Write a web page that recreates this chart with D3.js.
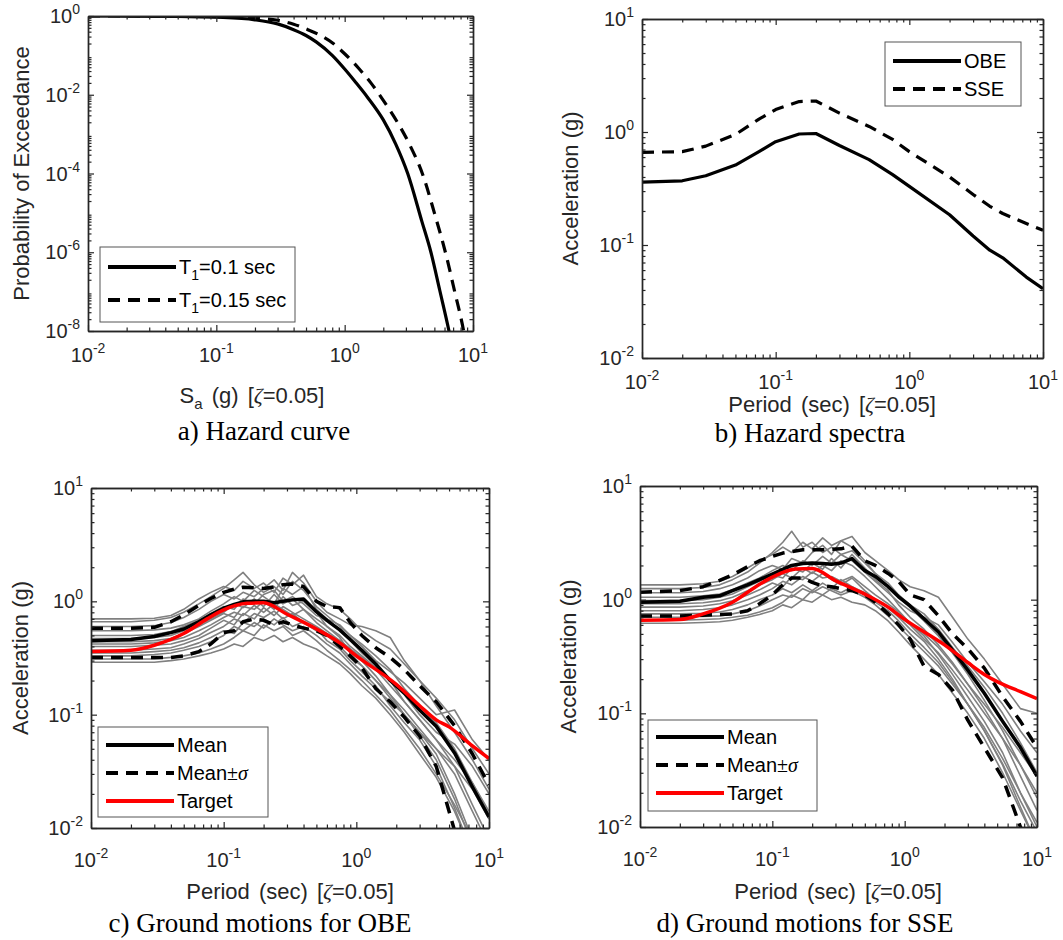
<!DOCTYPE html>
<html>
<head>
<meta charset="utf-8">
<script src="https://cdn.jsdelivr.net/npm/d3@7"></script>
<style>
body { margin: 0; background: #fff; }
svg { font-family: "Liberation Sans", Arial, Helvetica, sans-serif; }
</style>
</head>
<body>
<div id="fig"></div>
<script>
// ---- a) hazard curves ----
let hazT1x = [0.01, 0.02, 0.05, 0.1, 0.2, 0.3, 0.4, 0.5, 0.6, 0.8, 1.0, 1.2, 1.5, 2.0, 2.5, 3.1, 4.0, 4.7, 5.5, 6.5, 7.0];
let hazT1p = [1.0, 0.998, 0.98, 0.93, 0.8, 0.63, 0.45, 0.32, 0.22, 0.1, 0.045, 0.022, 0.0088, 0.0023, 5.6e-4, 1e-4, 6e-6, 1e-6, 1.1e-7, 1e-8, 3e-9];
let hazT2x = [0.01, 0.02, 0.05, 0.1, 0.2, 0.3, 0.4, 0.5, 0.65, 0.8, 1.0, 1.3, 1.6, 2.0, 2.6, 3.2, 4.1, 5.0, 6.2, 7.2, 8.5, 9.0];
let hazT2p = [1.0, 0.999, 0.99, 0.965, 0.88, 0.78, 0.62, 0.47, 0.32, 0.21, 0.11, 0.045, 0.02, 0.0072, 0.0019, 5.5e-4, 8.5e-5, 1e-5, 8e-7, 1e-7, 9e-9, 3e-9];

// ---- b) hazard spectra ----
let specT = [0.01, 0.02, 0.03, 0.05, 0.075, 0.1, 0.15, 0.2, 0.3, 0.5, 0.75, 1, 2, 3, 4, 5, 7.5, 10];
let specOBE = [0.36, 0.37, 0.41, 0.51, 0.67, 0.82, 0.96, 0.97, 0.76, 0.57, 0.42, 0.33, 0.185, 0.12, 0.09, 0.077, 0.052, 0.041];
let specSSE = [0.66, 0.67, 0.75, 0.95, 1.3, 1.58, 1.86, 1.88, 1.47, 1.12, 0.86, 0.67, 0.4, 0.28, 0.22, 0.19, 0.155, 0.135];

// target spectra used in c) and d)
let targetOBE = [0.36, 0.37, 0.41, 0.52, 0.7, 0.84, 0.96, 0.97, 0.77, 0.57, 0.43, 0.33, 0.185, 0.12, 0.09, 0.078, 0.053, 0.041];
let targetSSE = [0.66, 0.67, 0.75, 0.95, 1.3, 1.58, 1.86, 1.88, 1.47, 1.12, 0.86, 0.67, 0.4, 0.28, 0.22, 0.19, 0.155, 0.135];

// ---- c), d) ground motion spectra ----
let gmT = [0.01, 0.02, 0.03, 0.04, 0.05, 0.065, 0.08, 0.1, 0.12, 0.14, 0.17, 0.2, 0.24, 0.28, 0.33,
           0.4, 0.5, 0.6, 0.75, 0.9, 1.1, 1.4, 1.8, 2.3, 3, 4, 5.5, 7.5, 10];

let obeMean  = [0.45,0.46,0.49,0.53,0.57, 0.66,0.76,0.87,0.94,0.99, 1.0,1.0,0.97,1.0,1.03, 1.05,0.81,0.68,0.56,0.46, 0.37,0.28,0.2,0.155,0.11, 0.079,0.046,0.023,0.0125];
let obeUpper = [0.58,0.58,0.59,0.66,0.76, 0.92,1.06,1.2,1.28,1.33, 1.32,1.3,1.34,1.4,1.42, 1.35,1.0,0.9,0.88,0.65, 0.5,0.39,0.32,0.25,0.18, 0.13,0.08,0.045,0.024];
let obeLower = [0.32,0.32,0.32,0.32,0.33, 0.36,0.42,0.53,0.55,0.66, 0.7,0.68,0.62,0.66,0.62, 0.58,0.55,0.5,0.4,0.33, 0.26,0.17,0.13,0.095,0.065, 0.035,0.0095,0.003,0.002];
let obeRecords = [
  [0.70,0.70,0.71,0.75,0.85, 1.05,1.2,1.35,1.25,1.5, 1.3,1.45,1.2,1.6,1.4, 1.7,1.1,0.95,0.85,0.7, 0.55,0.45,0.38,0.28,0.2, 0.14,0.09,0.05,0.03],
  [0.66,0.66,0.68,0.72,0.8, 0.95,1.1,1.3,1.55,1.8, 1.4,1.2,1.35,1.15,1.5, 1.25,0.9,0.75,0.6,0.5, 0.42,0.33,0.25,0.17,0.12, 0.085,0.05,0.025,0.014],
  [0.6,0.6,0.61,0.65,0.72, 0.85,1.0,1.15,1.05,1.2, 1.1,1.3,1.55,1.25,1.8, 1.45,1.0,0.8,0.7,0.62, 0.6,0.55,0.48,0.3,0.2, 0.12,0.07,0.04,0.022],
  [0.55,0.55,0.56,0.58,0.62, 0.7,0.82,0.95,1.1,1.0, 1.25,1.1,0.95,1.3,1.15, 1.35,0.85,0.7,0.55,0.45, 0.35,0.27,0.2,0.13,0.09, 0.06,0.035,0.016,0.008],
  [0.5,0.5,0.51,0.54,0.6, 0.68,0.78,0.9,0.85,1.05, 0.95,1.15,1.25,1.0,1.1, 0.95,0.75,0.7,0.62,0.5, 0.4,0.3,0.24,0.19,0.14, 0.1,0.11,0.06,0.04],
  [0.47,0.47,0.48,0.5,0.55, 0.62,0.7,0.8,0.95,0.88, 1.05,0.9,1.15,0.95,1.05, 0.85,0.65,0.55,0.45,0.38, 0.3,0.22,0.15,0.1,0.07, 0.045,0.02,0.008,0.004],
  [0.44,0.44,0.45,0.47,0.52, 0.6,0.68,0.78,0.72,0.9, 0.85,1.0,0.85,1.1,0.92, 1.0,0.8,0.6,0.5,0.4, 0.33,0.26,0.2,0.15,0.1, 0.07,0.055,0.035,0.02],
  [0.42,0.42,0.43,0.45,0.48, 0.55,0.62,0.72,0.8,0.75, 0.92,0.8,0.95,0.85,0.75, 0.85,0.7,0.6,0.48,0.35, 0.27,0.2,0.14,0.1,0.065, 0.04,0.018,0.007,0.003],
  [0.4,0.4,0.41,0.42,0.45, 0.5,0.58,0.68,0.62,0.78, 0.7,0.88,0.75,0.9,0.8, 0.7,0.6,0.52,0.45,0.38, 0.32,0.25,0.18,0.13,0.09, 0.06,0.04,0.025,0.013],
  [0.37,0.37,0.38,0.39,0.42, 0.47,0.53,0.6,0.7,0.65, 0.78,0.72,0.82,0.7,0.78, 0.65,0.55,0.5,0.4,0.32, 0.27,0.2,0.15,0.11,0.075, 0.05,0.03,0.014,0.007],
  [0.35,0.35,0.36,0.37,0.39, 0.43,0.48,0.55,0.52,0.65, 0.6,0.7,0.62,0.72,0.6, 0.66,0.58,0.45,0.38,0.3, 0.24,0.18,0.12,0.085,0.06, 0.035,0.015,0.006,0.003],
  [0.33,0.33,0.34,0.35,0.37, 0.4,0.44,0.5,0.6,0.55, 0.65,0.58,0.7,0.62,0.55, 0.6,0.5,0.42,0.35,0.28, 0.22,0.17,0.13,0.1,0.07, 0.05,0.035,0.022,0.012],
  [0.31,0.31,0.31,0.32,0.33, 0.35,0.38,0.42,0.48,0.55, 0.5,0.62,0.55,0.6,0.5, 0.55,0.45,0.37,0.3,0.25, 0.2,0.15,0.11,0.075,0.05, 0.03,0.016,0.008,0.004],
  [0.29,0.29,0.29,0.3,0.31, 0.33,0.35,0.38,0.42,0.4, 0.48,0.45,0.5,0.44,0.48, 0.42,0.38,0.33,0.28,0.23, 0.18,0.14,0.1,0.07,0.045, 0.028,0.014,0.006,0.003]
];

let sseMean  = [0.95,0.97,1.05,1.08,1.2, 1.35,1.5,1.68,1.85,2.0, 2.08,2.1,2.08,2.05,2.1, 2.3,1.8,1.6,1.3,1.06, 0.88,0.68,0.52,0.36,0.24, 0.15,0.085,0.05,0.028];
let sseUpper = [1.16,1.2,1.3,1.48,1.65, 1.95,2.2,2.4,2.57,2.65, 2.75,2.75,2.75,2.78,2.8, 2.95,2.2,2.0,1.7,1.45, 1.1,1.0,0.72,0.5,0.37, 0.25,0.14,0.085,0.05];
let sseLower = [0.72,0.72,0.73,0.74,0.75, 0.8,0.92,1.1,1.35,1.55, 1.55,1.42,1.32,1.3,1.25, 1.2,1.1,0.95,0.75,0.6, 0.45,0.26,0.22,0.16,0.087, 0.05,0.027,0.01,0.005];
let sseRecords = [
  [1.35,1.35,1.38,1.45,1.6, 1.9,2.2,2.5,2.9,2.6, 3.2,2.8,3.5,3.0,3.3, 3.6,2.6,2.2,1.8,1.5, 1.3,1.2,1.05,0.7,0.45, 0.3,0.18,0.11,0.1],
  [1.25,1.25,1.28,1.35,1.5, 1.75,2.1,2.6,3.2,4.0, 2.9,3.2,2.6,2.9,2.5, 2.7,2.1,1.7,1.4,1.1, 0.9,0.75,0.55,0.38,0.26, 0.17,0.1,0.055,0.03],
  [1.15,1.15,1.18,1.25,1.35, 1.55,1.8,2.0,1.85,2.3, 2.1,2.6,3.0,2.5,3.3, 2.9,2.2,1.7,1.3,1.05, 0.85,0.65,0.48,0.34,0.22, 0.13,0.07,0.035,0.018],
  [1.05,1.05,1.08,1.12,1.22, 1.4,1.55,1.8,2.0,1.8, 2.2,2.0,2.4,2.1,2.5, 2.2,1.75,1.45,1.15,0.95, 0.8,0.7,0.6,0.42,0.28, 0.19,0.12,0.07,0.045],
  [0.98,0.98,1.0,1.05,1.12, 1.3,1.45,1.65,1.55,1.9, 1.75,2.1,1.85,2.3,1.9, 2.5,1.9,1.5,1.2,0.9, 0.7,0.55,0.4,0.28,0.18, 0.11,0.06,0.028,0.014],
  [0.92,0.92,0.94,0.98,1.05, 1.2,1.35,1.5,1.7,1.55, 1.9,1.7,2.0,1.8,2.2, 2.0,1.6,1.3,1.0,0.8, 0.62,0.5,0.38,0.27,0.18, 0.12,0.075,0.045,0.028],
  [0.86,0.86,0.88,0.92,0.98, 1.1,1.22,1.4,1.3,1.6, 1.5,1.75,1.55,1.6,1.45, 1.6,1.3,1.1,0.92,0.78, 0.62,0.48,0.33,0.22,0.14, 0.085,0.045,0.02,0.01],
  [0.8,0.8,0.82,0.85,0.9, 1.0,1.1,1.25,1.45,1.35, 1.6,1.45,1.7,1.5,1.35, 1.55,1.2,1.0,0.85,0.7, 0.55,0.43,0.3,0.2,0.12, 0.07,0.035,0.015,0.007],
  [0.75,0.75,0.76,0.78,0.82, 0.9,1.0,1.1,1.25,1.15, 1.35,1.2,1.4,1.25,1.5, 1.3,1.15,1.0,0.85,0.72, 0.6,0.45,0.34,0.24,0.16, 0.1,0.06,0.035,0.02],
  [0.7,0.7,0.71,0.72,0.75, 0.8,0.88,1.0,1.1,1.05, 1.25,1.15,1.3,1.2,1.1, 1.2,1.05,0.9,0.72,0.58, 0.46,0.35,0.26,0.18,0.12, 0.075,0.04,0.02,0.011],
  [0.66,0.66,0.67,0.68,0.7, 0.73,0.78,0.85,0.95,1.1, 1.0,1.2,1.1,1.25,1.15, 1.3,1.1,0.95,0.8,0.65, 0.5,0.38,0.28,0.19,0.12, 0.07,0.036,0.017,0.009],
  [0.62,0.62,0.63,0.64,0.66, 0.7,0.74,0.8,0.9,0.85, 1.0,0.95,1.1,1.0,1.05, 0.95,0.9,0.8,0.65,0.52, 0.4,0.3,0.22,0.15,0.1, 0.06,0.03,0.014,0.007]
];

let xTickExp = ['-2', '-1', '0', '1'];

let svg = d3.select('#fig').append('svg')
    .attr('width', 1063)
    .attr('height', 940);

const AX = '#262626';
const SERIF = '"Liberation Serif", "Times New Roman", serif';

function decades(lo, hi) {
    let a = [];
    for (let e = lo; e <= hi; e++) a.push(+('1e' + e));
    return a;
}
function minorTicks(lo, hi) {
    let a = [];
    for (let e = lo; e < hi; e++)
        for (let k = 2; k <= 9; k++) a.push(+(k + 'e' + e));
    return a;
}

function panel(p) {
    let w = p.x1 - p.x0, h = p.y1 - p.y0;
    let g = svg.append('g').attr('transform', 'translate(' + p.x0 + ',' + p.y0 + ')');
    let x = d3.scaleLog().domain(p.xd).range([0, w]);
    let y = d3.scaleLog().domain(p.yd).range([h, 0]);
    g.append('clipPath').attr('id', 'clip' + p.id)
        .append('rect').attr('width', w).attr('height', h);
    let plot = g.append('g').attr('clip-path', 'url(#clip' + p.id + ')');

    let xl = Math.round(Math.log10(p.xd[0])), xh = Math.round(Math.log10(p.xd[1]));
    let yl = Math.round(Math.log10(p.yd[0])), yh = Math.round(Math.log10(p.yd[1]));
    let sides = [
        [d3.axisBottom, x, 'translate(0,' + h + ')'],
        [d3.axisTop, x, null],
        [d3.axisLeft, y, null],
        [d3.axisRight, y, 'translate(' + w + ',0)']
    ];
    sides.forEach(function (s, i) {
        let maj = i < 2 ? decades(xl, xh) : p.yMajor;
        let min = i < 2 ? minorTicks(xl, xh) : minorTicks(yl, yh);
        [[maj, 6], [min, 3.5]].forEach(function (t) {
            let a = g.append('g').attr('class', 'axis');
            if (s[2]) a.attr('transform', s[2]);
            a.call(s[0](s[1]).tickValues(t[0]).tickSizeInner(-t[1]).tickSizeOuter(0).tickFormat(''));
        });
    });
    g.selectAll('.axis path.domain').attr('stroke', AX).attr('stroke-width', 1.4);
    g.selectAll('.axis line').attr('stroke', AX).attr('stroke-width', 1.2);

    // tick labels  10^n
    decades(xl, xh).forEach(function (v, i) {
        let t = g.append('text').attr('x', x(v)).attr('y', h + p.xLabOff)
            .attr('text-anchor', 'middle').attr('font-size', 20).attr('fill', AX).text('10');
        t.append('tspan').attr('dy', -9).attr('font-size', 14).text(xTickExp[i]);
    });
    p.yMajor.forEach(function (v) {
        let t = g.append('text').attr('x', -8).attr('y', y(v) + 7)
            .attr('text-anchor', 'end').attr('font-size', 20).attr('fill', AX).text('10');
        t.append('tspan').attr('dy', -9).attr('font-size', 14).text(String(Math.round(Math.log10(v))));
    });

    // y label
    svg.append('text')
        .attr('transform', 'translate(' + p.yLabX + ',' + ((p.y0 + p.y1) / 2) + ') rotate(-90)')
        .attr('text-anchor', 'middle').attr('font-size', 22).attr('fill', AX)
        .text(p.ylabel);

    return { g: g, plot: plot, x: x, y: y, w: w, h: h };
}

function zetaLabel(cx, cy, head, sub) {
    let t = svg.append('text').attr('x', cx).attr('y', cy)
        .attr('text-anchor', 'middle').attr('font-size', 22).attr('fill', AX)
        .style('word-spacing', '3px');
    t.append('tspan').text(head);
    if (sub) {
        t.append('tspan').attr('dy', 6).attr('font-size', 15).text(sub);
        t.append('tspan').attr('dy', -6).text(' (g) [');
    }
    t.append('tspan').style('font-family', SERIF).style('font-style', 'italic').text('\u03B6');
    t.append('tspan').text('=0.05]');
}

function caption(cx, cy, s) {
    svg.append('text').attr('x', cx).attr('y', cy).attr('text-anchor', 'middle')
        .style('font-family', SERIF).attr('font-size', 27).attr('fill', '#000').text(s);
}

function drawLine(P, xs, ys, color, width, dash, curve) {
    let pts = xs.map(function (v, i) { return [v, ys[i]]; });
    let line = d3.line()
        .x(function (d) { return P.x(d[0]); })
        .y(function (d) { return P.y(d[1]); })
        .curve(curve || d3.curveLinear);
    let path = P.plot.append('path').datum(pts)
        .attr('d', line)
        .attr('fill', 'none')
        .attr('stroke', color)
        .attr('stroke-width', width)
        .attr('stroke-linejoin', 'round');
    if (dash) path.attr('stroke-dasharray', dash);
    return path;
}

function legend(bx, by, bw, bh, items, rowH, y0) {
    svg.append('rect').attr('x', bx).attr('y', by).attr('width', bw).attr('height', bh)
        .attr('fill', '#fff').attr('stroke', '#555').attr('stroke-width', 1);
    items.forEach(function (it, i) {
        let yy = by + y0 + i * rowH;
        let l = svg.append('line').attr('x1', bx + 8).attr('x2', bx + 76)
            .attr('y1', yy).attr('y2', yy)
            .attr('stroke', it.color).attr('stroke-width', 4);
        if (it.dash) l.attr('stroke-dasharray', it.dash);
        let t = svg.append('text').attr('x', bx + 79).attr('y', yy + 7)
            .attr('font-size', 20).attr('fill', '#000');
        it.label(t);
    });
}

const DASH = '12,8';

// ---------- a) Hazard curve ----------
let A = panel({ id: 'a', x0: 88, y0: 16, x1: 473, y1: 331, xd: [0.01, 10], yd: [1e-8, 1],
    yMajor: decades(-8, 0).filter(function (v, i) { return i % 2 === 0; }),
    xLabOff: 31, yLabX: 29, ylabel: 'Probability of Exceedance' });
drawLine(A, hazT1x, hazT1p, '#000', 3.2, null, d3.curveMonotoneX);
drawLine(A, hazT2x, hazT2p, '#000', 3.2, DASH, d3.curveMonotoneX);
legend(100, 247, 195, 75, [
    { color: '#000', label: function (t) {
        t.append('tspan').text('T');
        t.append('tspan').attr('dy', 6).attr('font-size', 14).text('1');
        t.append('tspan').attr('dy', -6).text('=0.1 sec'); } },
    { color: '#000', dash: DASH, label: function (t) {
        t.append('tspan').text('T');
        t.append('tspan').attr('dy', 6).attr('font-size', 14).text('1');
        t.append('tspan').attr('dy', -6).text('=0.15 sec'); } }
], 33, 20);
zetaLabel(252, 403, 'S', 'a');
caption(264, 440, 'a) Hazard curve');

// ---------- b) Hazard spectra ----------
let B = panel({ id: 'b', x0: 642, y0: 19, x1: 1043, y1: 358, xd: [0.01, 10], yd: [0.01, 10],
    yMajor: decades(-2, 1), xLabOff: 31, yLabX: 578, ylabel: 'Acceleration (g)' });
drawLine(B, specT, specOBE, '#000', 3.2);
drawLine(B, specT, specSSE, '#000', 3.2, DASH);
legend(885, 42, 136, 64, [
    { color: '#000', label: function (t) { t.text('OBE'); } },
    { color: '#000', dash: DASH, label: function (t) { t.text('SSE'); } }
], 28, 19);
zetaLabel(832, 412, 'Period (sec) [');
caption(810, 442, 'b) Hazard spectra');

function gmPanel(P, recs, mean, up, lo, target) {
    recs.forEach(function (r) { drawLine(P, gmT, r, '#808080', 1.6); });
    drawLine(P, gmT, mean, '#000', 3.5);
    drawLine(P, gmT, up, '#000', 3.5, DASH);
    drawLine(P, gmT, lo, '#000', 3.5, DASH);
    drawLine(P, specT, target, '#ff0000', 3.5, null, d3.curveMonotoneX);
}
function gmLegendItems() {
    return [
        { color: '#000', label: function (t) { t.text('Mean'); } },
        { color: '#000', dash: DASH, label: function (t) {
            t.append('tspan').text('Mean');
            t.append('tspan').style('font-family', SERIF).text('\u00B1');
            t.append('tspan').style('font-family', SERIF).style('font-style', 'italic').text('\u03C3'); } },
        { color: '#ff0000', label: function (t) { t.text('Target'); } }
    ];
}

// ---------- c) Ground motions for OBE ----------
let C = panel({ id: 'c', x0: 91, y0: 488, x1: 489, y1: 828, xd: [0.01, 10], yd: [0.01, 10],
    yMajor: decades(-2, 1), xLabOff: 39, yLabX: 28, ylabel: 'Acceleration (g)' });
gmPanel(C, obeRecords, obeMean, obeUpper, obeLower, targetOBE);
legend(98, 727, 170, 90, gmLegendItems(), 28, 18);
zetaLabel(290, 899, 'Period (sec) [');
caption(260, 932, 'c) Ground motions for OBE');

// ---------- d) Ground motions for SSE ----------
let D = panel({ id: 'd', x0: 640, y0: 486, x1: 1037, y1: 827, xd: [0.01, 10], yd: [0.01, 10],
    yMajor: decades(-2, 1), xLabOff: 39, yLabX: 576, ylabel: 'Acceleration (g)' });
gmPanel(D, sseRecords, sseMean, sseUpper, sseLower, targetSSE);
legend(648, 720, 169, 91, gmLegendItems(), 28, 17);
zetaLabel(838, 899, 'Period (sec) [');
caption(805, 932, 'd) Ground motions for SSE');
</script>
</body>
</html>
